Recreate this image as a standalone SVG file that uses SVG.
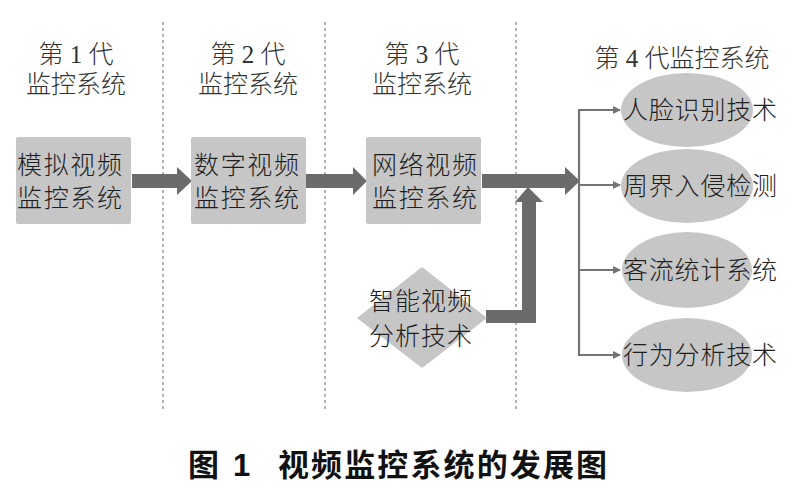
<svg xmlns="http://www.w3.org/2000/svg" width="804" height="487" viewBox="0 0 804 487">
<defs>
<style>
.t{font-family:"Liberation Serif","Noto Sans CJK SC",serif;font-size:25px;font-weight:300;fill:#1e1e1e;}
.h{font-family:"Liberation Serif","Noto Sans CJK SC",serif;font-size:25px;font-weight:300;fill:#333;text-anchor:middle;}
.box{fill:#c6c6c6;}
.dash{stroke:#9a9a9a;stroke-width:1.5;stroke-dasharray:3 3;fill:none;}
.big{fill:#6b6b6b;}
.thin{stroke:#747474;stroke-width:2.2;fill:none;}
.ell{fill:#c6c6c6;}
.cap{font-family:"Liberation Sans","Noto Sans CJK SC",sans-serif;font-size:31px;font-weight:bold;fill:#111;}
</style>
<marker id="ah" markerWidth="8" markerHeight="8" refX="7" refY="4" orient="auto" markerUnits="userSpaceOnUse">
<path d="M0,0 L8,4 L0,8 Z" fill="#747474"/>
</marker>
</defs>
<rect width="804" height="487" fill="#fff"/>
<g id="dividers">
<line class="dash" x1="163" y1="22" x2="163" y2="410"/>
<line class="dash" x1="325" y1="22" x2="325" y2="410"/>
<line class="dash" x1="516" y1="22" x2="516" y2="410"/>
</g>
<g id="headers">
<text class="h" x="76" y="63">第 1 代</text>
<text class="h" x="76" y="93">监控系统</text>
<text class="h" x="248" y="63">第 2 代</text>
<text class="h" x="248" y="93">监控系统</text>
<text class="h" x="422" y="63">第 3 代</text>
<text class="h" x="422" y="93">监控系统</text>
<text class="h" x="682" y="67">第 4 代监控系统</text>
</g>
<g id="connectors">
<path class="big" d="M132,174 H177 V167 L192,181 L177,195 V188 H132 Z"/>
<path class="big" d="M306,174 H353 V167 L367,181 L353,195 V188 H306 Z"/>
<path class="big" d="M482,174 H565 V167 L580,181 L565,195 V188 H482 Z"/>
<path class="big" d="M486,310 H522 V202 H515 L528,187 L543,202 H536 V323 H486 Z"/>
<line class="thin" x1="579" y1="109" x2="579" y2="356"/>
<line class="thin" x1="579" y1="110" x2="620" y2="110" marker-end="url(#ah)"/>
<line class="thin" x1="579" y1="185" x2="620" y2="185" marker-end="url(#ah)"/>
<line class="thin" x1="579" y1="270" x2="620" y2="270" marker-end="url(#ah)"/>
<line class="thin" x1="579" y1="355" x2="620" y2="355" marker-end="url(#ah)"/>
</g>
<g id="node1">
<rect class="box" x="16" y="137" width="115" height="87" rx="2"/>
<text class="t" x="17" y="174" textLength="105">模拟视频</text>
<text class="t" x="17" y="207" textLength="105">监控系统</text>
</g>
<g id="node2">
<rect class="box" x="191" y="137" width="115" height="87" rx="2"/>
<text class="t" x="194" y="174" textLength="105">数字视频</text>
<text class="t" x="194" y="207" textLength="105">监控系统</text>
</g>
<g id="node3">
<rect class="box" x="366" y="137" width="115" height="87" rx="2"/>
<text class="t" x="372" y="174" textLength="105">网络视频</text>
<text class="t" x="372" y="207" textLength="105">监控系统</text>
</g>
<g id="node4">
<polygon class="box" points="422,267 487,318 422,368 357,318"/>
<text class="t" x="369" y="310" textLength="103">智能视频</text>
<text class="t" x="369" y="345" textLength="103">分析技术</text>
</g>
<g id="e1">
<ellipse class="ell" cx="687" cy="110" rx="66" ry="37"/>
<text class="t" x="623" y="119" textLength="154">人脸识别技术</text>
</g>
<g id="e2">
<ellipse class="ell" cx="687" cy="186" rx="66" ry="37"/>
<text class="t" x="623" y="195" textLength="154">周界入侵检测</text>
</g>
<g id="e3">
<ellipse class="ell" cx="687" cy="270" rx="65" ry="38"/>
<text class="t" x="623" y="279" textLength="154">客流统计系统</text>
</g>
<g id="e4">
<ellipse class="ell" cx="687" cy="355" rx="65" ry="37"/>
<text class="t" x="623" y="364" textLength="154">行为分析技术</text>
</g>
<g id="caption">
<text class="cap" x="188" y="476">图<tspan x="233">1</tspan></text>
<text class="cap" x="278" y="476" textLength="329">视频监控系统的发展图</text>
</g>
</svg>
